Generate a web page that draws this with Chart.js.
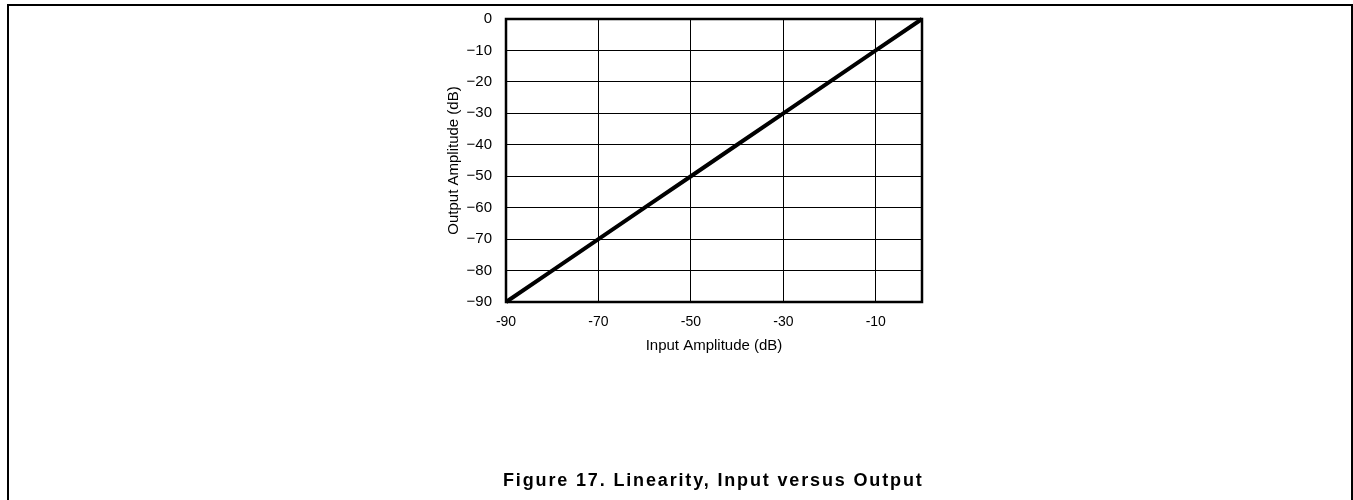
<!DOCTYPE html>
<html>
<head>
<meta charset="utf-8">
<script src="https://cdn.jsdelivr.net/npm/chart.js@4.4.1/dist/chart.umd.min.js"></script>
<style>
  body { margin: 0; background: #fff; width: 1353px; height: 500px; overflow: hidden; position: relative; }
  #frame { position: absolute; left: 7px; top: 4px; width: 1342px; height: 520px; border: 2px solid #000; }
  #grafico { position: absolute; left: 0; top: 0; }
  #caption { position: absolute; left: 503px; top: 470px; white-space: nowrap;
             font: bold 18px "Liberation Sans", Arial, sans-serif; letter-spacing: 1.85px; color: #000; }
</style>
</head>
<body>
<div id="frame"></div>
<canvas id="grafico" width="1353" height="500"></canvas>
<div id="caption">Figure 17. Linearity, Input versus Output</div>
<script>
// datos
const entrada = [-90, -80, -70, -60, -50, -40, -30, -20, -10, 0];
const salida = [-90, -80, -70, -60, -50, -40, -30, -20, -10, 0];
const ticksX = [-90, -70, -50, -30, -10];
const ticksY = [0, -10, -20, -30, -40, -50, -60, -70, -80, -90];

const marco = {
    id: 'marco',
    afterDraw(chart){
        const a = chart.chartArea;
        const ctx = chart.ctx;
        ctx.save();
        ctx.strokeStyle = '#000';
        ctx.lineWidth = 2.5;
        ctx.strokeRect(a.left, a.top, a.right - a.left, a.bottom - a.top);
        ctx.restore();
    }
};

new Chart(document.getElementById("grafico"), {
    type: 'line',
    data: {
        datasets: [{
            data: entrada.map((x, i) => ({x: x, y: salida[i]})),
            borderColor: '#000',
            borderWidth: 4,
            pointRadius: 0,
            tension: 0,
            clip: false
        }]
    },
    options: {
        responsive: false,
        animation: false,
        layout: { padding: { left: 430, top: 19, right: 431, bottom: 138 } },
        plugins: { legend: { display: false }, tooltip: { enabled: false } },
        scales: {
            x: {
                type: 'linear',
                min: -90, max: 0,
                afterBuildTicks: s => { s.ticks = ticksX.map(v => ({value: v})); },
                afterFit: s => { s.height = 60; s.paddingLeft = 0; s.paddingRight = 0; },
                grid: { color: '#000', lineWidth: 1, drawTicks: false },
                border: { display: false },
                ticks: { color: '#000', padding: 12, maxRotation: 0, font: { family: 'Liberation Sans', size: 14 } },
                title: { display: true, text: 'Input Amplitude (dB)', color: '#000', padding: { top: 0, bottom: 7 },
                         font: { family: 'Liberation Sans', size: 15 } }
            },
            y: {
                type: 'linear',
                min: -90, max: 0,
                afterBuildTicks: s => { s.ticks = ticksY.map(v => ({value: v})); },
                afterFit: s => { s.width = 76; s.paddingTop = 0; s.paddingBottom = 0; },
                grid: { color: '#000', lineWidth: 1, drawTicks: false },
                border: { display: false },
                ticks: { color: '#000', padding: 14, font: { family: 'Liberation Sans', size: 15 },
                         callback: v => String(v).replace('-', '\u2212') },
                title: { display: true, text: 'Output Amplitude (dB)', color: '#000', padding: { top: 15 },
                         font: { family: 'Liberation Sans', size: 15 } }
            }
        }
    },
    plugins: [marco]
});
</script>
</body>
</html>
